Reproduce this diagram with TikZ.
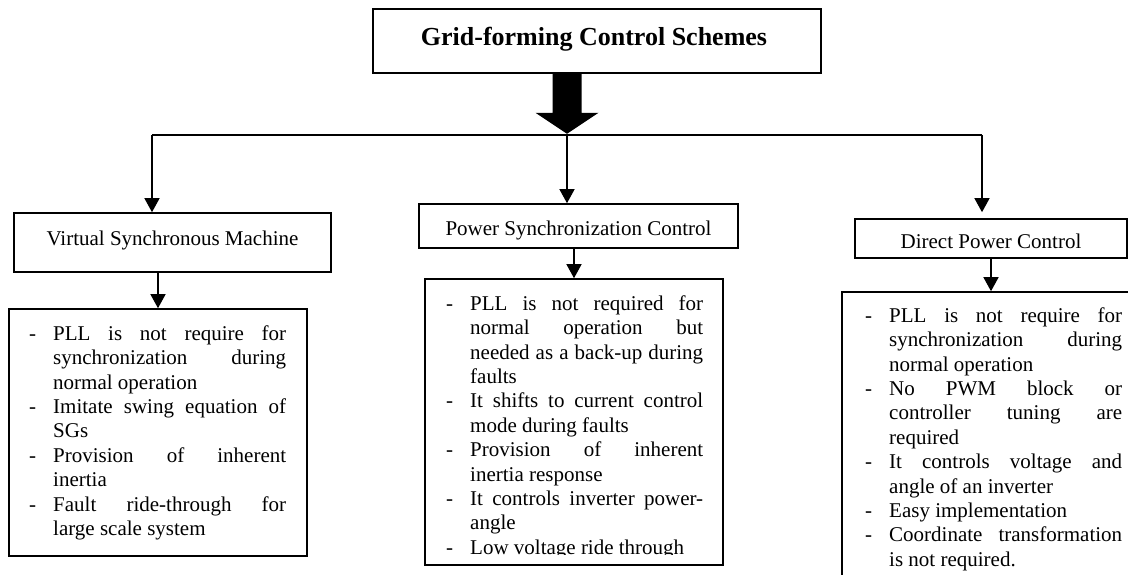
\documentclass[tikz,border=0pt]{standalone}
\usepackage{fontspec}
\setmainfont{Liberation Serif}
\usetikzlibrary{arrows.meta}
\newcommand\gfitem[1]{\noindent\hangindent=24pt\hangafter=1\makebox[24pt][l]{-}#1\par}
\newcommand\gfsetup{\hyphenpenalty=10000\exhyphenpenalty=10000\tolerance=10000\hbadness=10000\parskip=0pt\parindent=0pt}
\begin{document}
\begin{tikzpicture}[x=1pt,y=-1pt,
  box/.style={draw, line width=1.6pt, inner sep=0pt},
  conn/.style={line width=1.4pt},
  arr/.style={line width=1.4pt, -{Triangle[width=15pt,length=14pt]}},
  lbl/.style={font=\fontsize{21}{24}\selectfont, inner sep=0pt, anchor=base},
  listtxt/.style={text width=257pt, align=justify, inner sep=0pt, anchor=north west,
    font=\fontsize{21}{24.4}\selectfont}]
\useasboundingbox (0,0) rectangle (1128,575);
\clip (0,0) rectangle (1128,575);

% title
\node[box, minimum width=448pt, minimum height=64pt] (title) at (597,41) {};
\node[inner sep=0pt, anchor=base, font=\fontsize{26}{30}\selectfont\bfseries] (titleT) at (594,46) {Grid-forming Control Schemes};

% thick arrow
\coordinate (ts) at ([xshift=-30pt]title.south);
\fill (ts) ++(-14.5,0) -- ++(0,39) -- ++(-17,0) -- ++(31.5,21) -- ++(31.5,-21) -- ++(-17,0) -- ++(0,-39) -- cycle;

% second-level boxes
\node[box, minimum width=317pt, minimum height=59pt] (vsm) at (172.5,242.5) {};
\node[lbl] (vsmT) at (172.5,245) {Virtual Synchronous Machine};
\node[box, minimum width=319pt, minimum height=44pt] (psc) at (578.5,226) {};
\node[lbl] (pscT) at (578.5,235) {Power Synchronization Control};
\node[box, minimum width=272pt, minimum height=39pt] (dpc) at (991,238.5) {};
\node[lbl] (dpcT) at (991,248) {Direct Power Control};

% bus
\coordinate (busL) at (152,135);
\coordinate (busR) at (982,135);
\draw[conn] (busL) -- (busR);
\draw[arr] (busL) -- (busL |- vsm.north);
\draw[arr] (ts |- busL) -- (ts |- psc.north);
\coordinate (dpctop) at (busR |- dpc.north);
\draw[arr] (busR) -- ([yshift=6pt]dpctop);

% list boxes
\node[box, minimum width=298pt, minimum height=247pt] (vsml) at (158,432.5) {};
\node[box, minimum width=298pt, minimum height=286pt] (pscl) at (574,422) {};
\node[box, minimum width=298pt, minimum height=298pt] (dpcl) at (991,441) {};

\draw[arr] (vsml.north |- vsm.south) -- (vsml.north);
\draw[arr] (pscl.north |- psc.south) -- (pscl.north);
\draw[arr] (dpcl.north |- dpc.south) -- (dpcl.north);

% list texts
\node[listtxt] (vsmL) at (29,325) {\gfsetup
\gfitem{\rule{0pt}{15pt}PLL is not require for\linebreak synchronization during\linebreak normal operation}
\gfitem{Imitate swing equation of\linebreak SGs}
\gfitem{Provision of inherent\linebreak inertia}
\gfitem{Fault ride-through for\linebreak large scale system}};

\begin{scope}
\clip (pscl.north west) rectangle ([yshift=11pt]pscl.south east);
\node[listtxt] (pscL) at (446,295) {\gfsetup
\gfitem{\rule{0pt}{15pt}PLL is not required for\linebreak normal operation but\linebreak needed as a back-up during\linebreak faults}
\gfitem{It shifts to current control\linebreak mode during faults}
\gfitem{Provision of inherent\linebreak inertia response}
\gfitem{It controls inverter power-\linebreak angle}
\gfitem{Low voltage ride through}};
\end{scope}

\node[listtxt] (dpcL) at (865,307) {\gfsetup
\gfitem{\rule{0pt}{15pt}PLL is not require for\linebreak synchronization during\linebreak normal operation}
\gfitem{No PWM block or\linebreak controller tuning are\linebreak required}
\gfitem{It controls voltage and\linebreak angle of an inverter}
\gfitem{Easy implementation}
\gfitem{Coordinate transformation\linebreak is not required.}};
\end{tikzpicture}
\end{document}
